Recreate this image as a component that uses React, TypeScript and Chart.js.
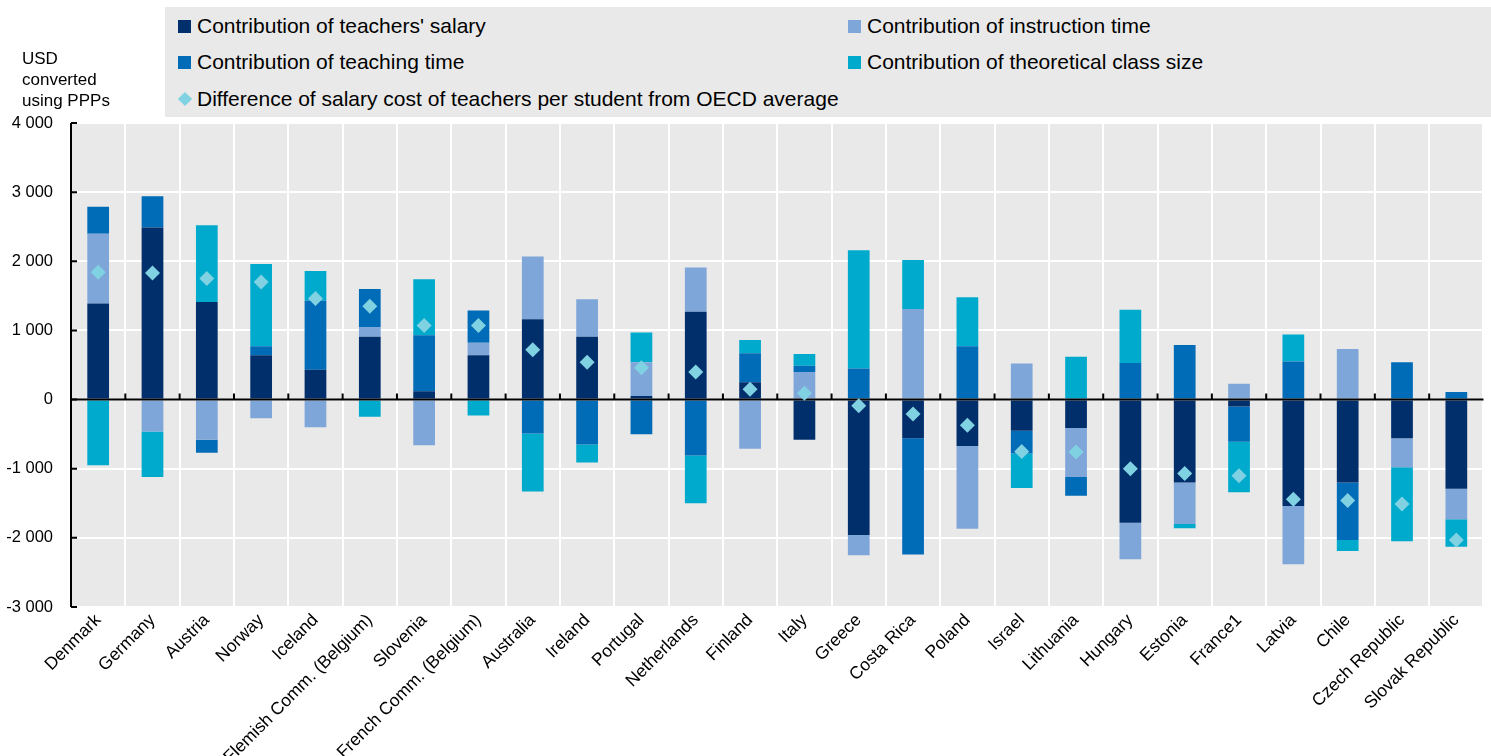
import React, { useEffect, useRef } from "react";
import { Chart, registerables } from "chart.js";

Chart.register(...registerables);

const countries = [
  "Denmark", "Germany", "Austria", "Norway", "Iceland", "Flemish Comm. (Belgium)",
  "Slovenia", "French Comm. (Belgium)", "Australia", "Ireland", "Portugal", "Netherlands",
  "Finland", "Italy", "Greece", "Costa Rica", "Poland", "Israel", "Lithuania", "Hungary",
  "Estonia", "France1", "Latvia", "Chile", "Czech Republic", "Slovak Republic",
];

const salary = [1390, 2490, 1410, 640, 430, 910, 120, 640, 1160, 910, 50, 1270, 250, -580, -1960, -560, -670, -450, -410, -1780, -1200, -100, -1540, -1200, -560, -1290];
const instruction = [1010, -460, -580, -270, -400, 140, -660, 180, 910, 540, 490, 640, -710, 400, -290, 1310, -1200, 520, -710, -530, -600, 230, -840, 730, -420, -440];
const teaching = [390, 450, -190, 130, 1000, 550, 810, 470, -490, -650, -500, -810, 420, 90, 450, -1680, 770, -330, -270, 530, 790, -510, 550, -830, 540, 110];
const classSize = [-950, -660, 1110, 1190, 430, -250, 810, -230, -840, -260, 430, -690, 190, 170, 1710, 710, 710, -500, 620, 770, -60, -730, 390, -160, -1070, -400];
const difference = [1840, 1830, 1750, 1700, 1460, 1350, 1070, 1070, 720, 540, 460, 400, 150, 90, -90, -210, -370, -750, -760, -1000, -1070, -1100, -1440, -1460, -1510, -2030];

const seriesNames = [
  "Contribution of teachers' salary",
  "Contribution of instruction time",
  "Contribution of teaching time",
  "Contribution of theoretical class size",
  "Difference of salary cost of teachers per student from OECD average",
];
const seriesColors = ["#002f6c", "#7fa6d9", "#006bb6", "#00aacc", "#80d1e2"];
const yTitleLines = ["USD", "converted", "using PPPs"];
const yMin = -3000;
const yMax = 4000;
const yStep = 1000;

const FONT = "'Liberation Sans', Arial, sans-serif";

function fmt(v: number): string {
  const s = Math.abs(v).toString().replace(/\B(?=(\d{3})+(?!\d))/g, " ");
  return (v < 0 ? "-" : "") + s;
}

const decorPlugin = {
  id: "decor",
  beforeDraw(chart: any) {
    const { ctx, chartArea } = chart;
    ctx.save();
    ctx.fillStyle = "#e9e9e9";
    ctx.fillRect(chartArea.left, chartArea.top, chartArea.right - chartArea.left, chartArea.bottom - chartArea.top);
    ctx.restore();
  },
  afterDatasetDraw(chart: any, args: any) {
    if (args.index !== 0) return;
    const { ctx, chartArea, scales } = chart;
    const y0 = scales.y.getPixelForValue(0);
    ctx.save();
    ctx.strokeStyle = "#000";
    ctx.lineWidth = 2;
    ctx.beginPath();
    ctx.moveTo(chartArea.left, y0);
    ctx.lineTo(chartArea.right, y0);
    const n = countries.length;
    for (let i = 1; i < n; i++) {
      const x = (scales.x.getPixelForValue(i - 1) + scales.x.getPixelForValue(i)) / 2;
      ctx.moveTo(x, y0);
      ctx.lineTo(x, y0 - 6);
    }
    ctx.stroke();
    ctx.restore();
  },
  afterDraw(chart: any) {
    const { ctx, chartArea, scales } = chart;
    ctx.save();
    ctx.strokeStyle = "#000";
    ctx.lineWidth = 2;
    ctx.beginPath();
    ctx.moveTo(chartArea.left, chartArea.top);
    ctx.lineTo(chartArea.left, chartArea.bottom);
    for (let v = yMin; v <= yMax; v += yStep) {
      const y = scales.y.getPixelForValue(v);
      ctx.moveTo(chartArea.left, y);
      ctx.lineTo(chartArea.left + 6, y);
    }
    ctx.stroke();
    ctx.restore();
  },
};

export default function App() {
  const ref = useRef<HTMLCanvasElement | null>(null);

  useEffect(() => {
    if (!ref.current) return;
    const barSeries = [salary, instruction, teaching, classSize];
    const chart = new Chart(ref.current, {
      type: "bar",
      data: {
        labels: countries,
        datasets: [
          ...barSeries.map((d, i) => ({
            type: "bar" as const,
            label: seriesNames[i],
            data: d,
            backgroundColor: seriesColors[i],
            borderWidth: 0,
            stack: "s",
            categoryPercentage: 0.8,
            barPercentage: 0.5,
            order: 0,
          })),
          {
            type: "line" as const,
            label: seriesNames[4],
            data: difference,
            showLine: false,
            pointStyle: "rectRot",
            pointRadius: 7.5,
            pointBackgroundColor: seriesColors[4],
            pointBorderWidth: 0,
            backgroundColor: seriesColors[4],
            borderColor: seriesColors[4],
            stack: "d",
            order: -1,
          } as any,
        ],
      },
      options: {
        animation: false,
        responsive: true,
        maintainAspectRatio: false,
        layout: { padding: { top: 123, left: 0, right: 0, bottom: 0 } },
        plugins: { legend: { display: false }, tooltip: { enabled: false } },
        scales: {
          x: {
            stacked: true,
            offset: true,
            grid: { color: "#ffffff", lineWidth: 2, drawTicks: false, offset: true },
            border: { display: false },
            ticks: {
              autoSkip: false,
              minRotation: 45,
              maxRotation: 45,
              padding: 3,
              color: "#000",
              font: { family: FONT, size: 17.5 },
            },
            afterFit(scale: any) {
              scale.height = 149;
            },
          },
          y: {
            stacked: true,
            min: yMin,
            max: yMax,
            grid: { color: "#ffffff", lineWidth: 2, drawTicks: false },
            border: { display: false },
            ticks: {
              stepSize: yStep,
              padding: 18,
              color: "#000",
              font: { family: FONT, size: 16.5 },
              callback: (v: any) => fmt(Number(v)),
            },
            afterFit(scale: any) {
              scale.width = 71;
            },
          },
        },
      },
      plugins: [decorPlugin],
    });
    return () => chart.destroy();
  }, []);

  const legendItem = (i: number, left: number, top: number) => (
    <div
      key={i}
      style={{
        position: "absolute",
        left,
        top,
        display: "flex",
        alignItems: "center",
        height: 26,
        whiteSpace: "nowrap",
      }}
    >
      {i === 4 ? (
        <span
          style={{
            display: "inline-block",
            width: 10,
            height: 10,
            background: seriesColors[i],
            transform: "rotate(45deg)",
            marginLeft: 2,
            marginRight: 7,
          }}
        />
      ) : (
        <span style={{ display: "inline-block", width: 13, height: 13, background: seriesColors[i], marginRight: 6 }} />
      )}
      <span style={{ fontFamily: FONT, fontSize: 21, color: "#000" }}>{seriesNames[i]}</span>
    </div>
  );

  return (
    <div style={{ position: "absolute", left: 0, top: 0, width: 1491, height: 756, background: "#fff" }}>
      <canvas ref={ref} />
      <div
        style={{
          position: "absolute",
          left: 165,
          top: 7,
          width: 1326,
          height: 110,
          background: "#e9e9e9",
        }}
      >
        {legendItem(0, 13, 6)}
        {legendItem(1, 683, 6)}
        {legendItem(2, 13, 42)}
        {legendItem(3, 683, 42)}
        {legendItem(4, 13, 79)}
      </div>
      <div
        style={{
          position: "absolute",
          left: 22,
          top: 48,
          fontFamily: FONT,
          fontSize: 17,
          lineHeight: "21px",
          color: "#000",
        }}
      >
        {yTitleLines.map((l, i) => (
          <div key={i}>{l}</div>
        ))}
      </div>
    </div>
  );
}
